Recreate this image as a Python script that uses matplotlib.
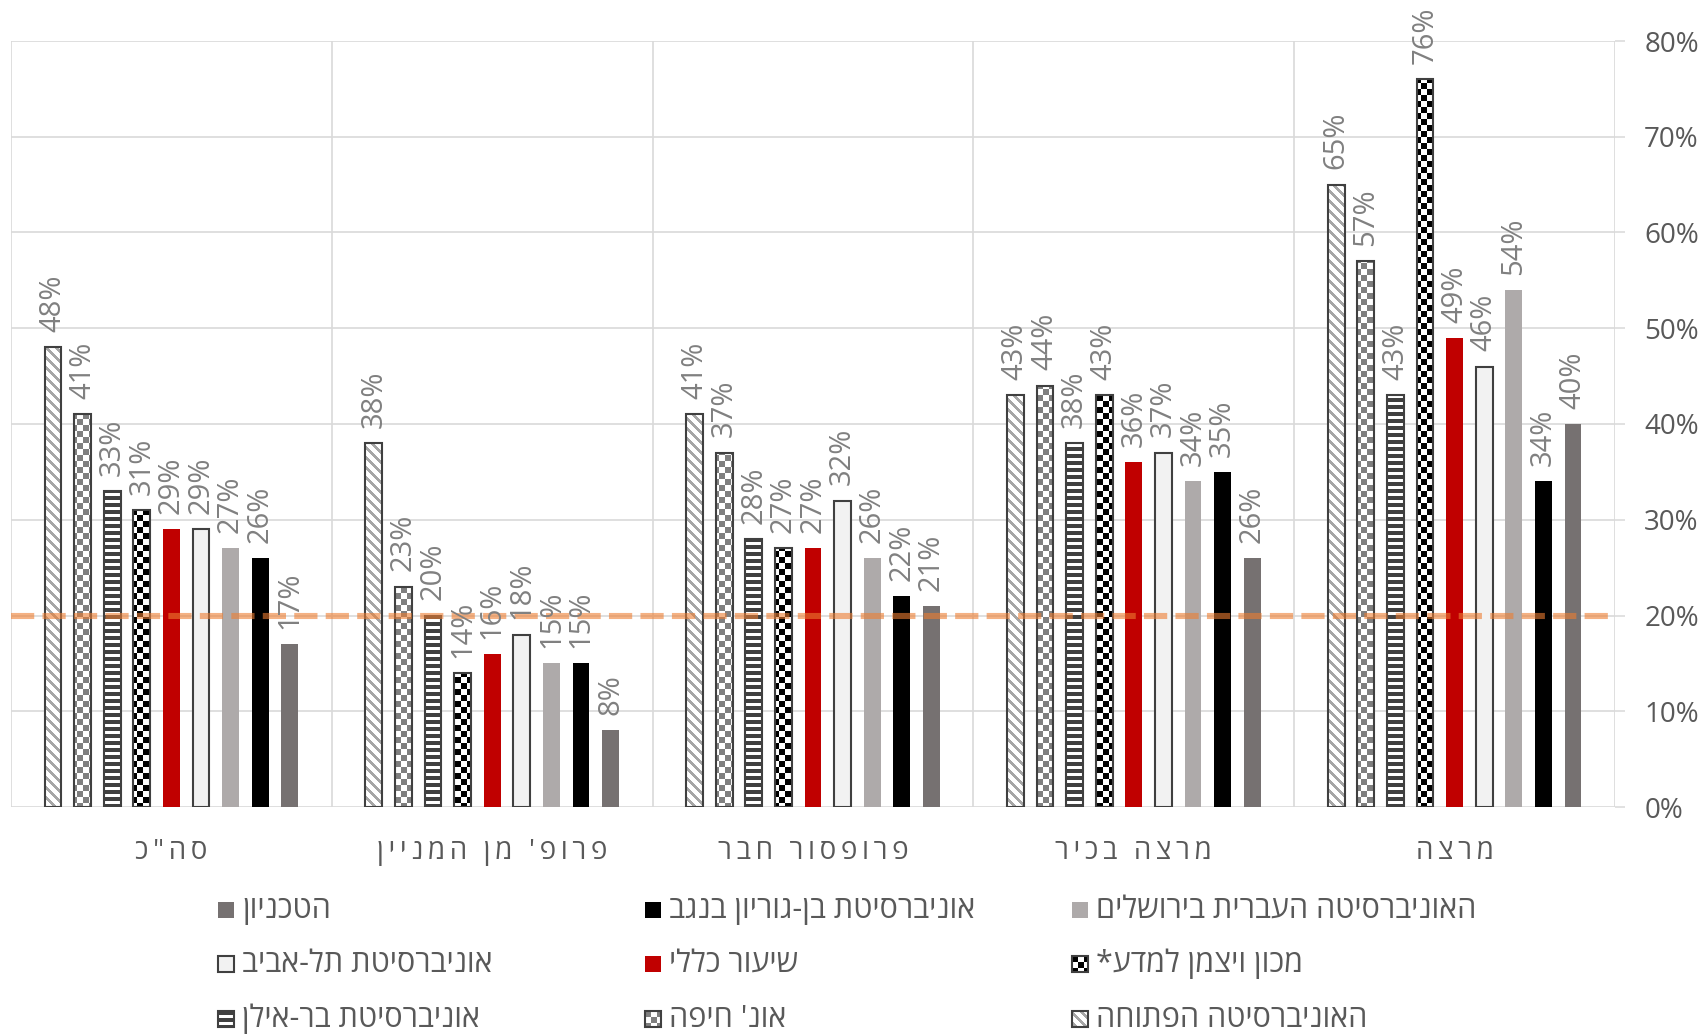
import numpy as np
import matplotlib
matplotlib.use("Agg")
import matplotlib.pyplot as plt
from matplotlib.path import Path
from matplotlib.patches import Rectangle
from matplotlib.ticker import PercentFormatter

FONT = ['Open Sans', 'DejaVu Sans']
plt.rcParams['font.family'] = FONT

# ---------------- data (visual order, left to right) ----------------
categories = ['סה"כ', "פרופ' מן המניין", 'פרופסור חבר', 'מרצה בכיר', 'מרצה']
series_names = ['האוניברסיטה הפתוחה', "אונ' חיפה", 'אוניברסיטת בר-אילן',
                'מכון ויצמן למדע*', 'שיעור כללי', 'אוניברסיטת תל-אביב',
                'האוניברסיטה העברית בירושלים', 'אוניברסיטת בן-גוריון בנגב', 'הטכניון']
open_u   = [48, 38, 41, 43, 65]
haifa    = [41, 23, 37, 44, 57]
bar_ilan = [33, 20, 28, 38, 43]
weizmann = [31, 14, 27, 43, 76]
overall  = [29, 16, 27, 36, 49]
tau      = [29, 18, 32, 37, 46]
huji     = [27, 15, 26, 34, 54]
bgu      = [26, 15, 22, 35, 34]
technion = [17, 8, 21, 26, 40]
series_values = [open_u, haifa, bar_ilan, weizmann, overall, tau, huji, bgu, technion]
reference_line = 20
y_ticks = [0, 10, 20, 30, 40, 50, 60, 70, 80]

# style per series: (kind, solid face, edge)
styles = [
    ('diag', None, '#404040'),
    ('checker_gray', None, '#404040'),
    ('hlines', None, '#404040'),
    ('checker_black', None, '#404040'),
    ('solid', '#C00000', 'none'),
    ('solid', '#F2F2F2', '#404040'),
    ('solid', '#AEAAAA', 'none'),
    ('solid', '#000000', 'none'),
    ('solid', '#767171', 'none'),
]


def rtl(s):
    return s[::-1]


def hexrgb(h):
    h = h.lstrip('#')
    return np.array([int(h[i:i + 2], 16) for i in (0, 2, 4)], dtype=float) / 255.0


def texture(kind, h, w):
    r, c = np.mgrid[0:h, 0:w]
    if kind == 'diag':
        mask = ((r - c) % 10) < 4
        fg = hexrgb('#A6A6A6')
    elif kind == 'checker_gray':
        mask = ((r // 6) + (c // 6)) % 2 == 0
        fg = hexrgb('#7F7F7F')
    elif kind == 'hlines':
        mask = (r % 7) < 4
        fg = hexrgb('#404040')
    else:
        mask = ((r // 6) + (c // 6)) % 2 == 0
        fg = hexrgb('#000000')
    bg = np.ones(3)
    return np.where(mask[..., None], fg, bg)


W_PX, H_PX = 1703, 1034
fig = plt.figure(figsize=(W_PX / 100, H_PX / 100), dpi=100)
ax_l, ax_r, ax_t, ax_b = 11, 1615, 41, 807
ax = fig.add_axes([ax_l / W_PX, 1 - ax_b / H_PX, (ax_r - ax_l) / W_PX, (ax_b - ax_t) / H_PX])

n_cat = len(categories)
n_ser = len(series_values)
pitch = 0.0923
bw = 0.052
x = np.arange(n_cat) + 0.5

ax.set_xlim(0, n_cat)
ax.set_ylim(0, 80)

axw_px = ax_r - ax_l
axh_px = ax_b - ax_t

for j, (vals, (kind, face, edge)) in enumerate(zip(series_values, styles)):
    xs = x + (j - (n_ser - 1) / 2) * pitch
    if kind == 'solid':
        ax.bar(xs, vals, bw, color=face, edgecolor=edge,
               linewidth=1.5 if edge != 'none' else 0, zorder=3)
    else:
        bars = ax.bar(xs, vals, bw, facecolor='white', edgecolor='none', zorder=2)
        paths = [b.get_path().transformed(b.get_patch_transform()) for b in bars]
        clip = Path.make_compound_path(*paths)
        img = texture(kind, axh_px, axw_px)
        im = ax.imshow(img, extent=(0, n_cat, 0, 80), origin='upper',
                       interpolation='nearest', aspect='auto', zorder=2.5)
        im.set_clip_path(clip, ax.transData)
        ax.bar(xs, vals, bw, facecolor='none', edgecolor=edge, linewidth=1.5, zorder=3)
    for xv, v in zip(xs, vals):
        ax.annotate(f'{v}%', (xv, v), xytext=(0, 11), textcoords='offset points',
                    rotation=90, ha='center', va='bottom', fontsize=21,
                    color='#808080', family=FONT, zorder=5)

ax.set_aspect('auto')
ax.set_xlim(0, n_cat)
ax.set_ylim(0, 80)

# reference line
ax.axhline(reference_line, color='#ED7D31', alpha=0.6, linewidth=4.4,
           dashes=(3.8, 1.35), zorder=4)

# grid & axes
for s in ax.spines.values():
    s.set_visible(False)
ax.set_yticks(y_ticks)
ax.yaxis.set_major_formatter(PercentFormatter(decimals=0))
ax.yaxis.tick_right()
ax.tick_params(axis='y', which='major', right=True, left=False, labelright=True,
               labelleft=False, length=7, color='#D9D9D9', width=1.1, pad=14,
               labelsize=20, labelcolor='#595959')
ax.yaxis.grid(True, color='#D9D9D9', linewidth=1.2, zorder=0)
ax.set_xticks(np.arange(n_cat + 1))
ax.set_xticklabels([])
ax.tick_params(axis='x', which='major', length=0)
ax.xaxis.grid(True, color='#D9D9D9', linewidth=1.2, zorder=0)
ax.set_axisbelow(True)
ax.set_xticks(x, minor=True)
ax.set_xticklabels(['\u2009'.join(rtl(c)) for c in categories], minor=True)
ax.tick_params(axis='x', which='minor', length=0, pad=22, labelsize=20,
               labelcolor='#595959')

# ---------------- legend (manual) ----------------
lax = fig.add_axes([0, 0, 1, 1], zorder=10)
lax.set_xlim(0, W_PX)
lax.set_ylim(H_PX, 0)
lax.axis('off')
legend_layout = [  # (series index, column x, row y)
    (8, 218, 910), (7, 645, 910), (6, 1072, 910),
    (5, 218, 964), (4, 645, 964), (3, 1072, 964),
    (2, 218, 1019), (1, 645, 1019), (0, 1072, 1019),
]
msz = 16
for idx, lx, ly in legend_layout:
    kind, face, edge = styles[idx]
    if kind == 'solid':
        lax.add_patch(Rectangle((lx, ly - msz / 2), msz, msz, facecolor=face,
                                edgecolor=edge, linewidth=1.5 if edge != 'none' else 0))
    else:
        img = texture(kind, msz, msz)
        lax.imshow(img, extent=(lx, lx + msz, ly + msz / 2, ly - msz / 2),
                   interpolation='nearest', aspect='auto')
        lax.add_patch(Rectangle((lx, ly - msz / 2), msz, msz, facecolor='none',
                                edgecolor=edge, linewidth=1.5))
    lax.text(lx + msz + 8, ly, rtl(series_names[idx]), ha='left', va='center',
             fontsize=22, color='#595959', family=FONT)
lax.set_xlim(0, W_PX)
lax.set_ylim(H_PX, 0)

fig.savefig('out.png', dpi=100)
